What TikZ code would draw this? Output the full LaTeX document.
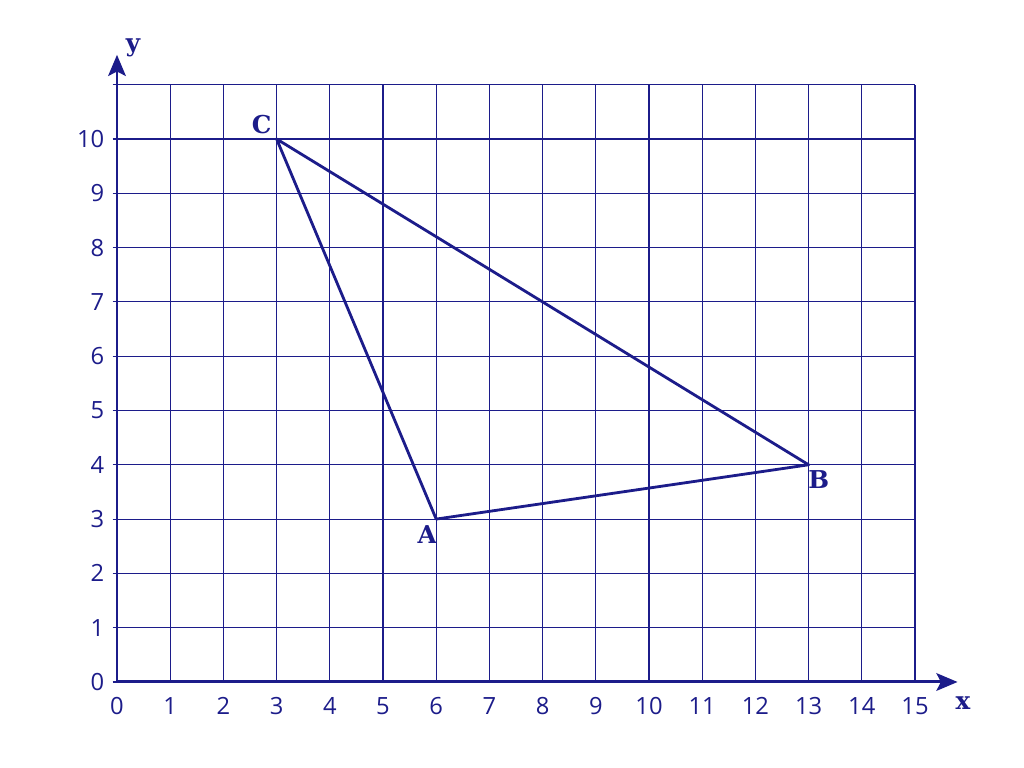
\documentclass[tikz,border=0pt]{standalone}
\usepackage{fontspec}
\setmainfont{Open Sans}
\newfontfamily\labfont{DejaVu Serif}
\usetikzlibrary{arrows.meta}
\definecolor{ink}{HTML}{1C1C8A}
\tikzset{
  gridline/.style={ink, line width=0.6pt},
  axisline/.style={ink, line width=1.7pt, -{Stealth[length=12pt,width=10pt,inset=2.5pt]}},
  tri/.style={ink, line width=1.6pt, line join=round},
  numlab/.style={ink, font=\fontsize{13.5}{15}\selectfont, inner sep=1pt},
  ptlab/.style={ink, font=\labfont\bfseries\fontsize{14}{16}\selectfont, inner sep=1pt},
}
\begin{document}
\begin{tikzpicture}
\useasboundingbox (0,0) rectangle (20.48cm,15.36cm);
\begin{scope}[shift={(2.34cm,1.72cm)}, x=1.064cm, y=1.086cm]
  \foreach \i in {1,...,15} \draw[gridline] (\i,0) -- (\i,11);
  \foreach \j in {0,...,11} \draw[gridline] (-0.08,\j) -- (15,\j);
  \coordinate (O) at (0,0);
  \coordinate (xend) at (15.8,0);
  \coordinate (yend) at (0,11.55);
  \draw[axisline] (O) -- (xend);
  \draw[axisline] (O) -- (yend);
  \node[ptlab] (xl) at (15.9,-0.39) {x};
  \node[ptlab] (yl) at (0.3,11.68) {y};
  \foreach \i in {0,...,15} \node[numlab] (xn\i) at (\i,-0.44) {\i};
  \foreach \j in {0,...,10} \node[numlab, anchor=east] (yn\j) at (-0.2,\j) {\j};
  \coordinate (A) at (6,3);
  \coordinate (B) at (13,4);
  \coordinate (C) at (3,10);
  \draw[tri] (A) -- (B) -- (C) -- cycle;
  \node[ptlab] (Al) at (5.83,2.72) {A};
  \node[ptlab] (Bl) at (13.19,3.72) {B};
  \node[ptlab] (Cl) at (2.72,10.26) {C};
\end{scope}
\end{tikzpicture}
\end{document}
